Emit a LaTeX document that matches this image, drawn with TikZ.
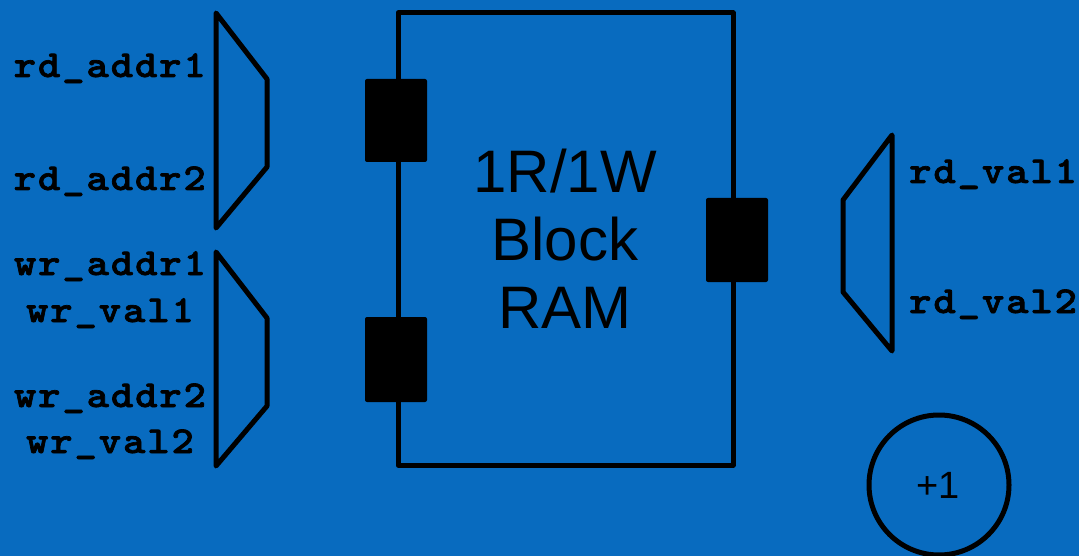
\documentclass[tikz,border=0pt]{standalone}
\usepackage{fontspec}
\setmainfont{Liberation Sans}
\newfontfamily\lblfont[FakeBold=1.8,FakeStretch=1.12,LetterSpace=5]{lmmonolt10-bold.otf}
\definecolor{bgblue}{RGB}{8,107,191}
\begin{document}
\begin{tikzpicture}[x=1pt,y=-1pt,
  wire/.style={draw=black,line width=5pt,line join=round,line cap=round},
  port/.style={fill=black,rounded corners=2pt},
  siglabel/.style={inner sep=0pt,font=\lblfont\fontsize{38}{44}\selectfont},
  ramtext/.style={inner sep=0pt,font=\fontsize{60}{67}\selectfont}]
\fill[bgblue] (0,0) rectangle (1079,556);
\useasboundingbox (0,0) rectangle (1079,556);
% left read mux
\draw[wire] (216,13) -- (267,79) -- (267,167) -- (216,228) -- cycle;
% left write mux
\draw[wire] (216,252) -- (267,318) -- (267,406) -- (216,466) -- cycle;
% RAM block
\draw[wire,line cap=butt] (398,13) rectangle (733,465);
% ports
\fill[port] (365,79) rectangle (427,162);
\fill[port] (365,317) rectangle (427,402);
\fill[port] (706,198) rectangle (768,282);
% right mux
\draw[wire] (892,135) -- (843,200) -- (843,292) -- (892,351) -- cycle;
% increment circle
\node[draw=black,line width=5pt,circle,minimum size=140pt,inner sep=0pt] (inc) at (939,485) {};
\node[inner sep=0pt,anchor=base,font=\fontsize{38}{42}\selectfont] (inclbl) at (938,498) {+1};
% RAM text
\node[ramtext,anchor=base] (t1) at (565,193) {1R/1W};
\node[ramtext,anchor=base] (t2) at (565,261) {Block};
\node[ramtext,anchor=base] (t3) at (565,328) {RAM};
% labels
\node[siglabel,anchor=base east] (ra1) at (206,77) {rd\_addr1};
\node[siglabel,anchor=base east] (ra2) at (206,190) {rd\_addr2};
\node[siglabel,anchor=base] (wa1) at (110,275) {wr\_addr1};
\node[siglabel,anchor=base] (wv1) at (110,322) {wr\_val1};
\node[siglabel,anchor=base] (wa2) at (110,407) {wr\_addr2};
\node[siglabel,anchor=base] (wv2) at (110,453) {wr\_val2};
\node[siglabel,anchor=base west] (rv1) at (909,183) {rd\_val1};
\node[siglabel,anchor=base west] (rv2) at (909,313) {rd\_val2};
\end{tikzpicture}
\end{document}
